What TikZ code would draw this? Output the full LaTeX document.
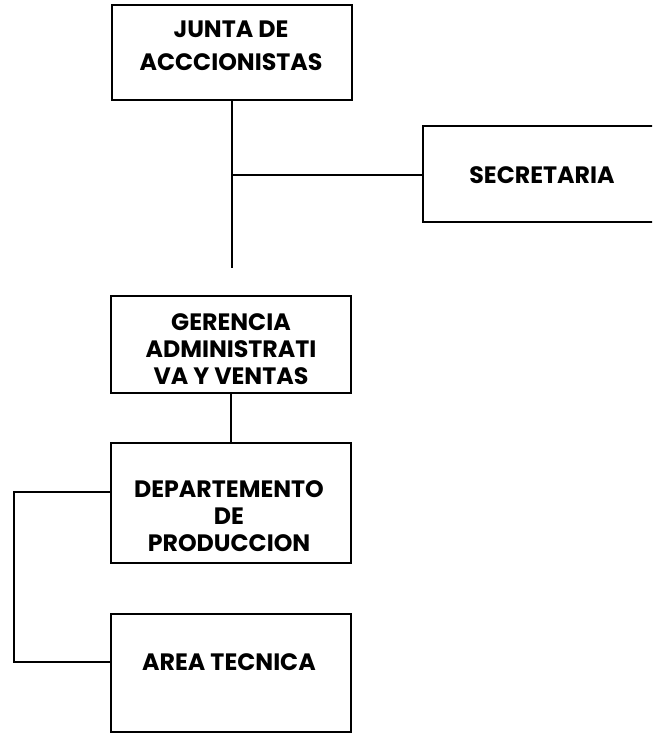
\documentclass[tikz,border=0pt]{standalone}
\usepackage{fontspec}
\setmainfont{Poppins}
\usepackage{tikz}

\begin{document}
\begin{tikzpicture}[x=0.02cm, y=-0.02cm,
    caja/.style={draw, line width=1pt, minimum width=4.8cm, inner sep=0pt},
    texto/.style={font=\bfseries\fontsize{13.5}{15.5}\selectfont, align=center},
    linea/.style={line width=1pt}]
      \useasboundingbox (0,0) rectangle (652,733);
      \clip (0,0) rectangle (652,733);
      \node[caja, minimum height=1.9cm] (junta) at (232,52.5) {};
      \node[caja, minimum width=4.76cm, minimum height=1.92cm] (secretaria) at (542,174) {};
      \node[caja, minimum height=1.94cm] (gerencia) at (231,344.5) {};
      \node[caja, minimum height=2.4cm] (depto) at (231,503) {};
      \node[caja, minimum height=2.36cm] (area) at (231,673) {};
      \node[texto, font=\bfseries\fontsize{13.5}{18.5}\selectfont] (tjunta) at (231,46) {JUNTA DE\\ACCCIONISTAS};
      \node[texto] (tsecretaria) at (542,175) {SECRETARIA};
      \node[texto] (tgerencia) at (231,349) {GERENCIA\\ADMINISTRATI\\VA Y VENTAS};
      \node[texto] (tdepto) at (229,516) {DEPARTEMENTO\\DE\\PRODUCCION};
      \node[texto] (tarea) at (229,662) {AREA TECNICA};
      \coordinate (fin) at (232,268);
      \coordinate (rama) at (232,175);
      \coordinate (dizq) at (111,492);
      \coordinate (aizq) at (111,662);
      \coordinate (borde) at (14,492);
      \draw[linea] (junta.south) -- (fin);
      \draw[linea] (rama) -- (rama -| secretaria.west);
      \draw[linea] (gerencia.south) -- (depto.north);
      \draw[linea] (dizq) -- (borde) |- (aizq);
    \end{tikzpicture}
\end{document}
